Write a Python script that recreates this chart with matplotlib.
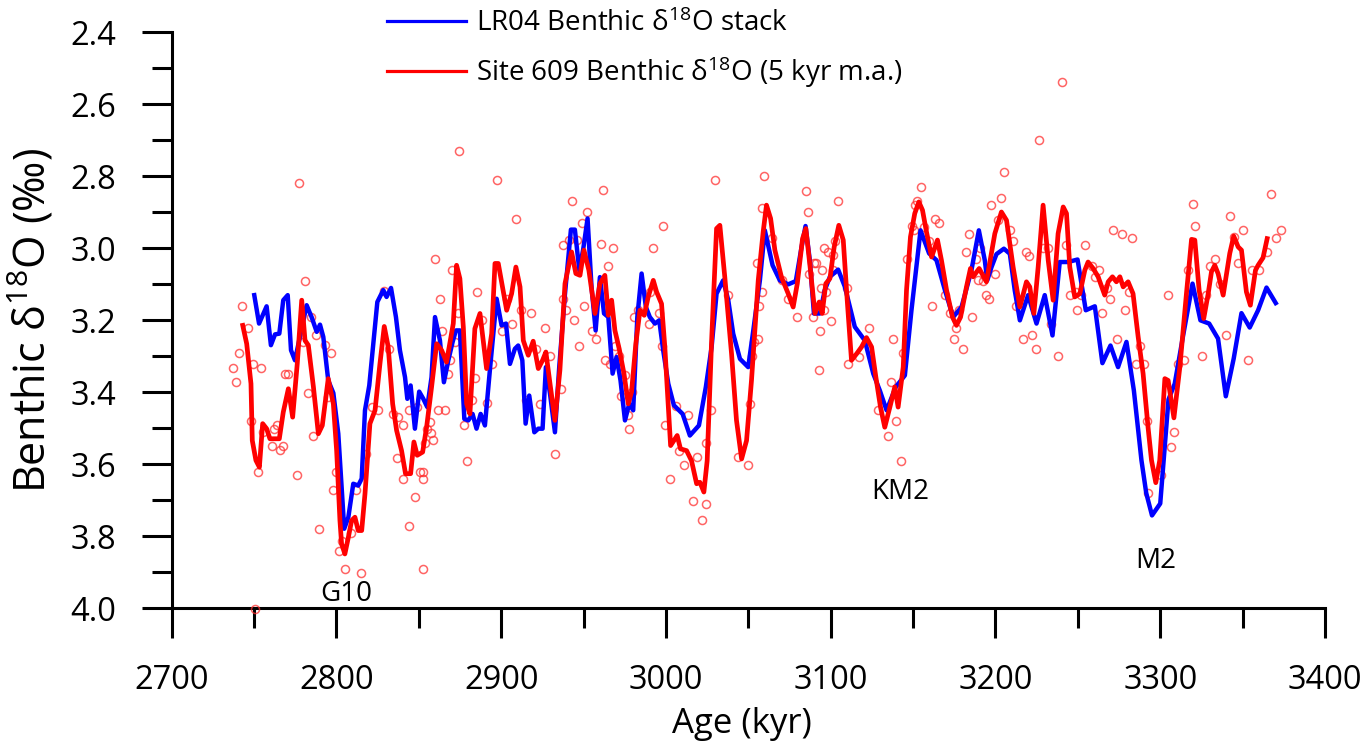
import numpy as np
import matplotlib.pyplot as plt
from matplotlib.ticker import MultipleLocator, FormatStrFormatter

plt.rcParams['font.family'] = ['Open Sans', 'DejaVu Sans']
plt.rcParams['mathtext.fontset'] = 'custom'
plt.rcParams['mathtext.rm'] = 'Open Sans'
plt.rcParams['mathtext.it'] = 'Open Sans:italic'
plt.rcParams['mathtext.bf'] = 'Open Sans:bold'

# LR04 benthic stack (age kyr, d18O permil)
lr04_age = [2750.1, 2753.0, 2757.6, 2760.2, 2762.7, 2765.3, 2767.7, 2770.4, 2772.4, 2774.8,
            2777.8, 2781.9, 2784.9, 2788.0, 2790.0, 2792.0, 2795.0, 2798.1, 2801.1, 2804.7,
            2807.2, 2810.2, 2813.2, 2815.3, 2817.3, 2819.9, 2824.8, 2828.4, 2830.4, 2833.1,
            2836.1, 2838.5, 2841.6, 2843.0, 2845.0, 2847.6, 2850.2, 2852.7, 2855.1, 2857.7,
            2859.8, 2862.8, 2865.2, 2867.9, 2870.5, 2872.5, 2874.9, 2877.6, 2880.0, 2882.6,
            2885.0, 2887.5, 2890.1, 2893.1, 2897.2, 2900.2, 2902.9, 2905.3, 2908.3, 2910.3,
            2912.8, 2914.8, 2917.0, 2920.1, 2922.5, 2925.1, 2927.1, 2929.6, 2932.6, 2935.2,
            2938.7, 2942.3, 2944.7, 2947.4, 2949.8, 2952.4, 2954.8, 2957.3, 2959.9, 2962.4,
            2965.0, 2967.6, 2970.0, 2972.4, 2975.1, 2977.7, 2980.1, 2982.6, 2985.2, 2987.8,
            2990.2, 2993.3, 2995.9, 2998.3, 3001.4, 3004.8, 3010.1, 3014.5, 3020.0, 3024.2,
            3027.7, 3030.7, 3034.7, 3037.8, 3040.8, 3044.9, 3049.9, 3053.0, 3057.0, 3060.0,
            3064.7, 3069.1, 3074.2, 3078.8, 3082.3, 3084.7, 3087.3, 3089.8, 3093.4, 3096.4,
            3099.5, 3104.5, 3108.6, 3114.6, 3120.7, 3125.8, 3129.8, 3133.9, 3139.5, 3145.0,
            3149.0, 3154.5, 3159.7, 3164.2, 3169.3, 3174.3, 3179.4, 3185.4, 3189.9, 3193.5,
            3195.0, 3197.6, 3200.6, 3205.1, 3208.7, 3211.7, 3214.8, 3219.8, 3224.9, 3229.9,
            3234.6, 3239.0, 3244.1, 3249.8, 3254.8, 3260.3, 3264.9, 3269.8, 3274.4, 3279.5,
            3284.0, 3288.6, 3291.5, 3295.0, 3300.0, 3305.0, 3308.8, 3313.9, 3319.6, 3324.4,
            3329.7, 3335.1, 3339.8, 3344.6, 3349.3, 3354.3, 3359.4, 3364.5, 3370.1]
lr04_d18o = [3.130, 3.209, 3.161, 3.269, 3.239, 3.237, 3.144, 3.130, 3.283, 3.311,
             3.246, 3.158, 3.191, 3.232, 3.212, 3.246, 3.367, 3.402, 3.515, 3.779,
             3.747, 3.654, 3.659, 3.640, 3.450, 3.381, 3.149, 3.116, 3.135, 3.110,
             3.191, 3.283, 3.358, 3.418, 3.381, 3.501, 3.398, 3.418, 3.441, 3.358,
             3.191, 3.256, 3.372, 3.311, 3.260, 3.228, 3.228, 3.474, 3.478, 3.460,
             3.501, 3.460, 3.492, 3.339, 3.140, 3.214, 3.209, 3.321, 3.279, 3.270,
             3.311, 3.487, 3.409, 3.511, 3.501, 3.501, 3.330, 3.404, 3.511, 3.330,
             3.126, 2.948, 2.948, 3.061, 3.001, 2.917, 3.107, 3.228, 3.080, 3.181,
             3.191, 3.348, 3.302, 3.367, 3.478, 3.432, 3.450, 3.191, 3.070, 3.163,
             3.191, 3.209, 3.200, 3.283, 3.376, 3.436, 3.460, 3.520, 3.492, 3.385,
             3.274, 3.126, 3.089, 3.144, 3.237, 3.307, 3.330, 3.228, 3.089, 2.950,
             3.047, 3.089, 3.100, 3.091, 2.996, 2.938, 3.033, 3.181, 3.181, 3.116,
             3.079, 3.059, 3.107, 3.218, 3.256, 3.348, 3.395, 3.450, 3.385, 3.353,
             3.172, 2.950, 3.014, 3.033, 3.116, 3.191, 3.163, 3.061, 2.950, 3.033,
             3.089, 3.052, 3.016, 3.001, 3.015, 3.117, 3.200, 3.130, 3.209, 3.130,
             3.242, 3.038, 3.038, 3.031, 3.172, 3.161, 3.319, 3.270, 3.330, 3.260,
             3.395, 3.589, 3.680, 3.742, 3.709, 3.420, 3.376, 3.242, 3.098, 3.200,
             3.209, 3.251, 3.411, 3.306, 3.180, 3.220, 3.172, 3.109, 3.152]

# Site 609, 5 kyr moving average
ma_age = [2743.1, 2745.5, 2748.1, 2748.9, 2751.1, 2753.2, 2755.2, 2757.6, 2759.6, 2762.7,
          2765.3, 2767.7, 2770.8, 2773.4, 2776.2, 2778.9, 2780.9, 2782.9, 2786.0, 2789.0,
          2791.4, 2795.0, 2798.1, 2800.1, 2802.1, 2803.1, 2805.1, 2807.2, 2809.2, 2811.2,
          2813.2, 2815.3, 2817.3, 2820.3, 2823.4, 2826.4, 2829.0, 2831.4, 2834.1, 2836.5,
          2839.5, 2841.9, 2845.0, 2847.0, 2849.0, 2852.3, 2854.7, 2857.7, 2860.8, 2863.8,
          2866.8, 2870.9, 2872.9, 2874.9, 2877.0, 2879.0, 2881.0, 2884.0, 2887.1, 2891.1,
          2894.2, 2896.2, 2898.2, 2903.3, 2906.3, 2908.9, 2911.4, 2913.4, 2916.4, 2919.4,
          2922.5, 2925.1, 2927.1, 2929.6, 2932.6, 2935.6, 2938.7, 2942.7, 2945.3, 2947.8,
          2950.2, 2953.2, 2956.9, 2959.9, 2962.9, 2965.0, 2967.0, 2969.0, 2971.6, 2974.5,
          2977.1, 2979.1, 2981.7, 2984.2, 2986.8, 2989.2, 2992.3, 2994.3, 2997.3, 2999.3,
          3002.8, 3006.8, 3008.8, 3012.5, 3015.5, 3018.6, 3020.6, 3023.0, 3025.0, 3027.7,
          3030.7, 3032.7, 3035.7, 3039.8, 3042.8, 3045.9, 3048.9, 3051.9, 3056.0, 3059.0,
          3061.0, 3063.5, 3066.1, 3070.1, 3074.2, 3077.2, 3079.7, 3082.9, 3084.9, 3087.7,
          3090.4, 3093.0, 3094.8, 3097.0, 3099.5, 3102.1, 3104.9, 3107.6, 3110.0, 3112.6,
          3115.7, 3118.7, 3121.7, 3124.8, 3127.4, 3130.2, 3132.8, 3135.9, 3138.9, 3140.9,
          3144.0, 3146.0, 3148.4, 3151.0, 3153.5, 3155.7, 3158.1, 3161.2, 3164.8, 3167.2,
          3170.3, 3173.9, 3176.3, 3178.8, 3182.4, 3184.8, 3186.4, 3190.1, 3194.5, 3199.6,
          3203.6, 3206.7, 3210.7, 3214.8, 3218.8, 3220.8, 3223.3, 3225.9, 3228.9, 3232.0,
          3235.0, 3238.0, 3241.1, 3243.1, 3245.1, 3248.1, 3251.2, 3254.2, 3256.2, 3259.3,
          3262.3, 3266.3, 3268.4, 3271.0, 3273.4, 3275.5, 3277.5, 3280.5, 3283.5, 3286.6,
          3289.6, 3292.6, 3294.7, 3297.3, 3299.7, 3302.8, 3304.8, 3308.3, 3311.9, 3315.9,
          3319.0, 3321.0, 3323.6, 3326.4, 3329.1, 3331.1, 3333.1, 3335.1, 3338.2, 3342.2,
          3344.6, 3347.3, 3349.3, 3352.3, 3354.7, 3357.8, 3359.4, 3362.4, 3364.9]
ma_d18o = [3.214, 3.265, 3.376, 3.534, 3.589, 3.608, 3.487, 3.501, 3.529, 3.529,
           3.529, 3.455, 3.390, 3.469, 3.320, 3.144, 3.256, 3.269, 3.385, 3.515,
           3.492, 3.362, 3.432, 3.562, 3.756, 3.821, 3.849, 3.803, 3.756, 3.747,
           3.784, 3.784, 3.682, 3.487, 3.450, 3.320, 3.217, 3.274, 3.432, 3.506,
           3.562, 3.626, 3.626, 3.538, 3.575, 3.566, 3.497, 3.386, 3.265, 3.283,
           3.316, 3.209, 3.047, 3.084, 3.219, 3.432, 3.460, 3.223, 3.181, 3.334,
           3.237, 3.042, 3.042, 3.172, 3.126, 3.052, 3.107, 3.256, 3.297, 3.258,
           3.334, 3.311, 3.288, 3.376, 3.478, 3.339, 3.098, 3.010, 3.070, 3.075,
           3.005, 3.061, 3.181, 3.098, 3.075, 3.186, 3.144, 3.228, 3.279, 3.348,
           3.432, 3.399, 3.265, 3.172, 3.186, 3.135, 3.089, 3.121, 3.154, 3.274,
           3.548, 3.520, 3.557, 3.562, 3.590, 3.654, 3.650, 3.677, 3.590, 3.256,
           2.945, 2.936, 3.080, 3.293, 3.478, 3.585, 3.534, 3.367, 3.089, 2.954,
           2.880, 2.917, 3.005, 3.080, 3.126, 3.163, 3.098, 2.973, 2.945, 3.061,
           3.181, 3.149, 3.181, 3.098, 3.084, 2.996, 2.936, 2.977, 3.144, 3.311,
           3.293, 3.274, 3.248, 3.274, 3.358, 3.441, 3.497, 3.441, 3.385, 3.441,
           3.330, 3.116, 2.968, 2.903, 2.871, 2.894, 2.954, 3.024, 2.977, 3.033,
           3.116, 3.191, 3.214, 3.191, 3.107, 3.056, 3.079, 3.056, 3.093, 2.959,
           2.899, 2.922, 3.052, 3.163, 3.093, 3.107, 3.181, 3.052, 2.880, 3.033,
           3.144, 2.959, 2.885, 2.903, 3.052, 3.135, 3.126, 3.061, 3.038, 3.056,
           3.079, 3.130, 3.093, 3.079, 3.093, 3.079, 3.107, 3.093, 3.126, 3.246,
           3.348, 3.497, 3.589, 3.651, 3.589, 3.362, 3.367, 3.471, 3.330, 3.126,
           2.975, 2.977, 3.116, 3.195, 3.126, 3.065, 3.047, 3.070, 3.130, 3.014,
           2.966, 2.996, 3.005, 3.121, 3.158, 3.061, 3.047, 3.026, 2.973]

# Site 609 raw benthic measurements
raw_age = [2737.4, 2739.0, 2741.0, 2742.9, 2746.5, 2747.9, 2749.5, 2750.5, 2752.6, 2754.2,
           2755.6, 2761.1, 2762.3, 2763.7, 2765.7, 2767.3, 2768.7, 2770.8, 2775.8, 2777.4,
           2779.5, 2780.9, 2782.5, 2784.3, 2786.0, 2787.6, 2789.6, 2793.0, 2795.0, 2796.7,
           2798.1, 2799.7, 2801.5, 2803.5, 2805.1, 2808.8, 2811.6, 2814.9, 2817.9, 2821.7,
           2825.4, 2828.8, 2831.8, 2834.1, 2836.9, 2837.5, 2840.1, 2840.5, 2844.2, 2844.2,
           2847.5, 2848.6, 2850.7, 2852.3, 2852.4, 2852.7, 2853.5, 2855.1, 2856.7, 2857.1,
           2858.4, 2860.0, 2861.6, 2862.8, 2864.0, 2865.6, 2867.5, 2868.9, 2870.1, 2871.9,
           2873.5, 2874.5, 2877.6, 2879.4, 2882.0, 2884.0, 2885.1, 2888.1, 2891.5, 2894.6,
           2897.6, 2900.2, 2903.3, 2906.3, 2908.9, 2912.0, 2914.8, 2917.8, 2921.1, 2923.5,
           2926.5, 2929.6, 2932.6, 2936.0, 2937.6, 2937.6, 2939.3, 2941.1, 2942.7, 2944.1,
           2945.7, 2947.4, 2948.8, 2950.4, 2952.2, 2955.3, 2957.3, 2960.7, 2961.5, 2963.1,
           2965.1, 2966.0, 2968.0, 2969.2, 2971.2, 2972.4, 2975.1, 2976.7, 2977.7, 2979.5,
           2980.7, 2982.8, 2989.6, 2990.2, 2992.3, 2995.9, 2997.3, 2998.3, 2999.3, 3002.4,
           3006.0, 3007.8, 3011.1, 3013.5, 3016.1, 3019.0, 3021.6, 3024.2, 3024.2, 3027.3,
           3029.7, 3037.8, 3043.8, 3049.9, 3050.9, 3052.3, 3053.3, 3055.4, 3056.0, 3056.6,
           3058.0, 3058.4, 3059.6, 3064.5, 3070.5, 3074.2, 3079.4, 3084.7, 3086.3, 3087.0,
           3089.0, 3089.8, 3091.0, 3092.8, 3093.4, 3093.8, 3095.0, 3095.8, 3096.0, 3097.4,
           3098.5, 3099.9, 3101.5, 3101.5, 3102.5, 3104.7, 3110.0, 3110.2, 3116.9, 3123.1,
           3128.4, 3134.5, 3136.3, 3137.9, 3139.5, 3142.4, 3144.0, 3146.4, 3149.4, 3150.4,
           3151.0, 3152.5, 3154.7, 3156.7, 3159.7, 3161.4, 3163.2, 3165.8, 3169.3, 3172.3,
           3174.7, 3176.3, 3177.8, 3180.0, 3181.8, 3183.8, 3185.8, 3187.9, 3189.1, 3190.9,
           3192.3, 3194.3, 3196.1, 3197.4, 3200.0, 3201.6, 3203.2, 3205.1, 3208.7, 3210.7,
           3212.3, 3216.4, 3218.4, 3220.4, 3222.3, 3224.5, 3226.5, 3228.9, 3231.6, 3233.6,
           3238.0, 3240.1, 3242.7, 3245.5, 3248.7, 3249.6, 3252.2, 3254.2, 3258.7, 3260.3,
           3262.7, 3264.7, 3267.4, 3269.8, 3271.4, 3274.0, 3276.5, 3278.5, 3280.9, 3282.9,
           3285.2, 3288.0, 3290.0, 3292.2, 3292.5, 3300.5, 3304.6, 3306.5, 3308.4, 3310.9,
           3314.5, 3316.9, 3319.6, 3321.2, 3325.2, 3328.0, 3330.5, 3333.5, 3336.5, 3339.8,
           3342.2, 3344.8, 3347.5, 3350.3, 3353.5, 3355.8, 3359.8, 3365.1, 3367.1, 3370.1,
           3373.2]
raw_d18o = [3.332, 3.370, 3.291, 3.160, 3.220, 3.481, 3.320, 4.002, 3.622, 3.332,
            3.511, 3.550, 3.501, 3.492, 3.561, 3.550, 3.350, 3.350, 3.631, 2.818,
            3.260, 3.090, 3.401, 3.191, 3.522, 3.242, 3.781, 3.269, 3.413, 3.291,
            3.671, 3.622, 3.842, 3.812, 3.891, 3.791, 3.671, 3.903, 3.571, 3.441,
            3.450, 3.118, 3.281, 3.461, 3.582, 3.469, 3.492, 3.642, 3.450, 3.772,
            3.691, 3.440, 3.620, 3.620, 3.890, 3.641, 3.541, 3.501, 3.483, 3.512,
            3.532, 3.029, 3.450, 3.140, 3.230, 3.450, 3.350, 3.309, 3.059, 3.260,
            3.180, 2.729, 3.490, 3.590, 3.421, 3.360, 3.120, 3.200, 3.431, 3.321,
            2.809, 3.230, 3.140, 3.209, 2.919, 3.170, 3.421, 3.180, 3.280, 3.432,
            3.220, 3.300, 3.571, 3.390, 2.990, 3.140, 3.170, 2.977, 2.869, 3.200,
            2.977, 3.270, 2.929, 3.160, 2.899, 3.230, 3.251, 2.989, 2.839, 3.311,
            3.050, 3.320, 2.999, 3.271, 3.300, 3.411, 3.351, 3.462, 3.501, 3.399,
            3.191, 3.170, 3.211, 3.121, 2.999, 3.180, 3.270, 2.939, 3.490, 3.642,
            3.439, 3.562, 3.601, 3.462, 3.701, 3.580, 3.756, 3.541, 3.710, 3.450,
            2.809, 3.131, 3.580, 3.601, 3.432, 3.300, 3.260, 3.040, 3.251, 3.160,
            3.121, 2.889, 2.799, 2.970, 3.089, 3.140, 3.191, 2.840, 2.899, 3.070,
            3.191, 3.040, 3.040, 3.339, 3.230, 3.109, 3.059, 2.999, 3.172, 3.121,
            3.010, 3.202, 3.019, 3.059, 2.979, 2.869, 3.110, 3.320, 3.302, 3.220,
            3.450, 3.520, 3.370, 3.251, 3.481, 3.591, 3.291, 3.030, 2.938, 2.950,
            2.880, 2.868, 2.829, 2.940, 2.979, 3.160, 2.919, 2.929, 3.130, 3.181,
            3.251, 3.221, 3.170, 3.281, 3.010, 2.959, 3.191, 3.030, 3.089, 3.000,
            3.090, 3.130, 3.141, 2.879, 3.070, 2.920, 2.859, 2.789, 2.950, 2.979,
            3.160, 3.251, 3.010, 3.021, 3.240, 3.281, 2.699, 2.999, 2.999, 3.211,
            3.300, 2.539, 2.990, 3.130, 3.121, 3.170, 3.130, 2.990, 3.049, 3.079,
            3.059, 3.181, 3.110, 3.141, 2.950, 3.251, 2.959, 3.170, 3.121, 2.970,
            3.320, 3.270, 3.320, 3.480, 3.680, 3.630, 3.130, 3.551, 3.511, 3.320,
            3.311, 3.059, 2.878, 2.938, 3.300, 3.130, 3.050, 3.030, 3.100, 3.240,
            2.909, 2.968, 3.040, 2.950, 3.311, 3.059, 3.059, 3.010, 2.849, 2.970,
            2.950]

events = ['G10', 'KM2', 'M2']
event_age = [2806, 3142, 3297]
event_d18o = [3.979, 3.696, 3.887]

fig = plt.figure(figsize=(13.64, 7.41), dpi=100)
ax = fig.add_axes([0.1259, 0.1791, 0.8455, 0.7772])

ax.plot(raw_age, raw_d18o, 'o', mfc='none', mec='#ff3030', alpha=0.75,
        ms=5.8, mew=1.1, zorder=3, clip_on=False)
ax.plot(lr04_age, lr04_d18o, color='#0000ff', lw=3.2, zorder=4,
        label='LR04 Benthic δ$^{18}$O stack')
ax.plot(ma_age, ma_d18o, color='#ff0000', lw=3.4, zorder=5,
        label='Site 609 Benthic δ$^{18}$O (5 kyr m.a.)')

for name, xa, ya in zip(events, event_age, event_d18o):
    ax.text(xa, ya, name, ha='center', va='baseline', fontsize=20)

ax.set_xlim(2700, 3400)
ax.set_ylim(4.0, 2.4)
ax.xaxis.set_major_locator(MultipleLocator(100))
ax.xaxis.set_minor_locator(MultipleLocator(50))
ax.yaxis.set_major_locator(MultipleLocator(0.2))
ax.yaxis.set_minor_locator(MultipleLocator(0.1))
ax.yaxis.set_major_formatter(FormatStrFormatter('%.1f'))

for side in ['top', 'right']:
    ax.spines[side].set_visible(False)
for side in ['left', 'bottom']:
    ax.spines[side].set_linewidth(2.2)

ax.tick_params(which='major', direction='out', length=21.6, width=2.2,
               labelsize=23.5, pad=18.5)
ax.tick_params(which='minor', direction='out', length=14.4, width=2.2)

ax.set_xlabel('Age (kyr)', fontsize=25)
ax.set_ylabel('Benthic δ$^{18}$O (‰)', fontsize=31)
ax.xaxis.set_label_coords(0.4945, -0.171)
ax.yaxis.set_label_coords(-0.100, 0.5)

leg = ax.legend(loc='upper left', bbox_to_anchor=(0.1867, 1.04), frameon=False,
                fontsize=20, handlelength=2.84, handletextpad=0.36, labelspacing=0.6,
                borderpad=0, borderaxespad=0)
for line in leg.get_lines():
    line.set_linewidth(2.3)

fig.savefig('out.png', dpi=100)
